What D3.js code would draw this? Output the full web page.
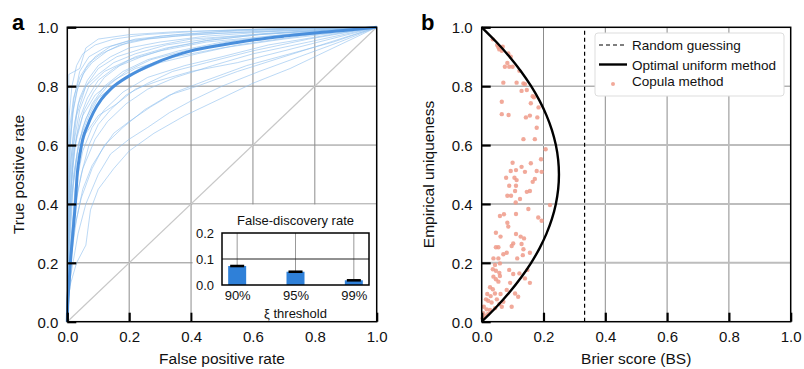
<!DOCTYPE html>
<html>
<head>
<meta charset="utf-8">
<script src="https://cdn.jsdelivr.net/npm/d3@7"></script>
<style>
  body { margin: 0; background: #fff; }
  svg { font-family: "Liberation Sans", Arial, Helvetica, sans-serif; }
</style>
</head>
<body>
<svg id="chart" width="804" height="369"></svg>
<script>
// ---- data ----
const gridTicks = [0, 0.2, 0.4, 0.6, 0.8, 1.0];

// panel a: mean ROC curve
const meanFpr = [0, 0.001, 0.005, 0.01, 0.018, 0.026, 0.032, 0.041, 0.05, 0.065, 0.084, 0.11, 0.14, 0.2, 0.28, 0.4, 0.5, 0.6, 0.7, 0.8, 0.9, 1];
const meanTpr = [0, 0.05, 0.12, 0.2, 0.3, 0.4, 0.5, 0.57, 0.62, 0.665, 0.71, 0.755, 0.79, 0.835, 0.877, 0.92, 0.94, 0.957, 0.97, 0.981, 0.99, 1];

// panel a: individual ROC curves, [fpr, tpr] knots
const rocCurves = [
  [[0,0],[0.002,0.5],[0.005,0.84],[0.04,0.86],[0.06,0.93],[0.1,0.96],[0.2,0.975],[0.35,0.985],[0.6,0.993],[0.85,1],[1,1]],
  [[0,0],[0.003,0.3],[0.01,0.6],[0.02,0.75],[0.04,0.85],[0.07,0.9],[0.12,0.93],[0.2,0.955],[0.35,0.97],[0.5,0.98],[0.75,0.99],[1,1]],
  [[0,0],[0.005,0.35],[0.015,0.55],[0.03,0.7],[0.06,0.8],[0.1,0.86],[0.16,0.9],[0.25,0.93],[0.4,0.96],[0.6,0.975],[0.8,0.99],[1,1]],
  [[0,0],[0.01,0.4],[0.02,0.6],[0.04,0.72],[0.07,0.8],[0.12,0.85],[0.2,0.89],[0.3,0.92],[0.45,0.95],[0.65,0.97],[0.85,0.99],[1,1]],
  [[0,0],[0.004,0.2],[0.012,0.45],[0.025,0.6],[0.05,0.7],[0.09,0.77],[0.15,0.82],[0.22,0.86],[0.35,0.9],[0.5,0.93],[0.7,0.96],[0.9,0.985],[1,1]],
  [[0,0],[0.01,0.25],[0.025,0.45],[0.05,0.58],[0.08,0.66],[0.12,0.72],[0.18,0.78],[0.26,0.83],[0.38,0.87],[0.5,0.9],[0.65,0.94],[0.85,0.975],[1,1]],
  [[0,0],[0.008,0.12],[0.03,0.2],[0.06,0.26],[0.075,0.38],[0.1,0.45],[0.15,0.52],[0.2,0.58],[0.28,0.64],[0.38,0.7],[0.5,0.76],[0.6,0.81],[0.72,0.86],[0.82,0.91],[0.92,0.96],[1,1]],
  [[0,0],[0.005,0.15],[0.02,0.3],[0.045,0.42],[0.08,0.52],[0.12,0.6],[0.18,0.66],[0.25,0.72],[0.33,0.77],[0.42,0.8],[0.55,0.85],[0.7,0.9],[0.85,0.95],[1,1]],
  [[0,0],[0.003,0.25],[0.01,0.4],[0.03,0.55],[0.06,0.64],[0.1,0.7],[0.16,0.74],[0.22,0.79],[0.3,0.82],[0.4,0.85],[0.55,0.88],[0.7,0.92],[0.85,0.96],[1,1]],
  [[0,0],[0.002,0.3],[0.008,0.5],[0.02,0.65],[0.035,0.74],[0.06,0.8],[0.1,0.84],[0.15,0.88],[0.22,0.91],[0.32,0.94],[0.45,0.96],[0.65,0.98],[0.85,0.99],[1,1]],
  [[0,0],[0.002,0.4],[0.006,0.58],[0.015,0.7],[0.03,0.78],[0.05,0.84],[0.08,0.88],[0.13,0.92],[0.2,0.95],[0.3,0.97],[0.5,0.985],[0.75,0.995],[1,1]],
  [[0,0],[0.006,0.3],[0.02,0.5],[0.04,0.62],[0.07,0.7],[0.1,0.76],[0.15,0.8],[0.21,0.84],[0.3,0.88],[0.42,0.91],[0.55,0.94],[0.75,0.97],[1,1]],
  [[0,0],[0.01,0.3],[0.02,0.48],[0.035,0.6],[0.06,0.69],[0.09,0.75],[0.13,0.8],[0.19,0.85],[0.27,0.89],[0.38,0.92],[0.52,0.95],[0.7,0.97],[0.9,0.99],[1,1]],
  [[0,0],[0.004,0.35],[0.012,0.55],[0.025,0.68],[0.04,0.76],[0.065,0.82],[0.1,0.87],[0.14,0.9],[0.2,0.93],[0.3,0.95],[0.45,0.97],[0.65,0.985],[1,1]],
  [[0,0],[0.01,0.2],[0.03,0.35],[0.05,0.45],[0.08,0.53],[0.11,0.58],[0.15,0.64],[0.2,0.68],[0.27,0.73],[0.35,0.78],[0.45,0.82],[0.58,0.87],[0.72,0.91],[0.86,0.95],[1,1]],
  [[0,0],[0.003,0.2],[0.015,0.42],[0.03,0.56],[0.05,0.66],[0.08,0.74],[0.12,0.8],[0.18,0.85],[0.26,0.89],[0.36,0.92],[0.5,0.95],[0.7,0.975],[1,1]],
  [[0,0],[0.005,0.45],[0.01,0.62],[0.02,0.72],[0.035,0.8],[0.06,0.86],[0.09,0.9],[0.14,0.935],[0.22,0.96],[0.35,0.975],[0.55,0.99],[1,1]],
  [[0,0],[0.008,0.22],[0.025,0.4],[0.05,0.52],[0.09,0.62],[0.13,0.68],[0.19,0.74],[0.26,0.79],[0.35,0.83],[0.47,0.87],[0.6,0.91],[0.78,0.95],[1,1]],
  [[0,0],[0.002,0.55],[0.006,0.7],[0.015,0.8],[0.03,0.87],[0.05,0.91],[0.09,0.94],[0.15,0.96],[0.25,0.975],[0.4,0.985],[0.65,0.995],[1,1]],
  [[0,0],[0.004,0.28],[0.015,0.5],[0.03,0.63],[0.055,0.72],[0.085,0.78],[0.12,0.83],[0.17,0.87],[0.24,0.9],[0.33,0.93],[0.45,0.955],[0.62,0.975],[0.82,0.99],[1,1]],
  [[0,0],[0.01,0.15],[0.035,0.3],[0.06,0.4],[0.1,0.5],[0.14,0.57],[0.2,0.62],[0.26,0.66],[0.33,0.71],[0.4,0.75],[0.5,0.8],[0.62,0.85],[0.75,0.9],[0.88,0.95],[1,1]],
  [[0,0],[0.003,0.5],[0.008,0.66],[0.02,0.76],[0.04,0.83],[0.07,0.88],[0.11,0.91],[0.17,0.94],[0.26,0.96],[0.4,0.975],[0.6,0.985],[0.8,0.995],[1,1]],
  [[0,0],[0.007,0.38],[0.02,0.57],[0.04,0.69],[0.065,0.76],[0.1,0.82],[0.15,0.86],[0.22,0.9],[0.32,0.93],[0.45,0.955],[0.62,0.975],[1,1]],
  [[0,0],[0.005,0.18],[0.02,0.36],[0.045,0.5],[0.07,0.6],[0.1,0.67],[0.14,0.72],[0.19,0.77],[0.26,0.81],[0.34,0.85],[0.45,0.88],[0.6,0.92],[0.78,0.96],[1,1]]
];

// panel a inset: false-discovery rate
const fdrLabels = ['90%', '95%', '99%'];
const fdrValues = [0.073, 0.051, 0.018];
const fdrErrors = [0.003, 0.003, 0.003];
const fdrTicks = [0, 0.1, 0.2];

// panel b: optimal uniform method
const optU  = [0, 0.05, 0.1, 0.15, 0.2, 0.25, 0.3, 0.35, 0.4, 0.45, 0.5, 0.55, 0.6, 0.65, 0.7, 0.75, 0.8, 0.85, 0.9, 0.95, 1];
const optBS = [0, 0.0475, 0.09, 0.1275, 0.16, 0.1875, 0.21, 0.2275, 0.24, 0.2475, 0.25, 0.2475, 0.24, 0.2275, 0.21, 0.1875, 0.16, 0.1275, 0.09, 0.0475, 0];
const randomBS = 0.333;

// panel b: copula method, [BS, uniqueness]
const copulaPoints = [
  [0.036,0.959],[0.050,0.940],[0.054,0.932],[0.057,0.925],[0.065,0.920],[0.068,0.934],[0.086,0.911],[0.094,0.900],
  [0.083,0.879],[0.075,0.866],[0.089,0.866],[0.100,0.866],[0.122,0.852],[0.070,0.812],[0.113,0.812],[0.135,0.809],
  [0.140,0.807],[0.129,0.784],[0.146,0.787],[0.165,0.766],[0.169,0.762],[0.159,0.742],[0.065,0.747],[0.184,0.728],
  [0.065,0.705],[0.087,0.702],[0.143,0.694],[0.156,0.700],[0.180,0.694],[0.178,0.659],[0.135,0.620],[0.172,0.620],
  [0.207,0.586],[0.192,0.552],[0.100,0.540],[0.129,0.526],[0.159,0.538],[0.094,0.512],[0.111,0.515],[0.140,0.509],
  [0.079,0.489],[0.106,0.489],[0.113,0.481],[0.178,0.512],[0.194,0.509],[0.089,0.462],[0.111,0.462],[0.165,0.475],
  [0.172,0.485],[0.108,0.444],[0.146,0.441],[0.156,0.444],[0.083,0.428],[0.095,0.428],[0.124,0.417],[0.110,0.405],
  [0.221,0.396],[0.151,0.383],[0.072,0.365],[0.059,0.359],[0.111,0.366],[0.183,0.354],[0.194,0.343],[0.083,0.336],
  [0.086,0.323],[0.046,0.302],[0.061,0.289],[0.111,0.298],[0.126,0.289],[0.137,0.283],[0.046,0.253],[0.054,0.253],
  [0.102,0.266],[0.097,0.257],[0.129,0.264],[0.081,0.234],[0.070,0.229],[0.135,0.246],[0.133,0.226],[0.038,0.215],
  [0.054,0.215],[0.059,0.198],[0.043,0.193],[0.115,0.215],[0.156,0.234],[0.036,0.178],[0.046,0.173],[0.057,0.166],
  [0.038,0.153],[0.046,0.144],[0.054,0.136],[0.089,0.176],[0.059,0.155],[0.102,0.162],[0.122,0.164],[0.148,0.176],
  [0.140,0.147],[0.092,0.132],[0.156,0.132],[0.027,0.117],[0.036,0.110],[0.018,0.094],[0.029,0.087],[0.043,0.096],
  [0.061,0.094],[0.014,0.076],[0.021,0.071],[0.032,0.065],[0.049,0.076],[0.057,0.060],[0.065,0.051],[0.007,0.051],
  [0.016,0.042],[0.027,0.040],[0.043,0.046],[0.005,0.029],[0.011,0.019],[0.021,0.026],[0.003,0.012],[0.108,0.096],
  [0.118,0.085],[0.081,0.108],[0.070,0.068],[0.097,0.051]
];

// ---- drawing ----
const svg = d3.select('#chart');
const fmt = d3.format('.1f');

function drawGrid(g, x, y, hGridStyle) {
  g.append('g').selectAll('line').data(gridTicks.slice(1, -1)).join('line')
    .attr('x1', d => x(d)).attr('x2', d => x(d))
    .attr('y1', y(0)).attr('y2', y(1))
    .attr('stroke', '#8c8c8c').attr('stroke-width', 1);
  g.append('g').selectAll('line').data(gridTicks.slice(1, -1)).join('line')
    .attr('y1', d => y(d)).attr('y2', d => y(d))
    .attr('x1', x(0)).attr('x2', x(1))
    .attr('stroke', d => hGridStyle(d).color).attr('stroke-width', d => hGridStyle(d).width);
}

function drawAxes(g, x, y, xTitle, yTitle, yTitleX) {
  const xAxis = g.append('g').attr('transform', `translate(0,${y(0)})`)
    .call(d3.axisBottom(x).tickValues(gridTicks).tickSize(-9).tickPadding(10).tickFormat(fmt));
  const yAxis = g.append('g').attr('transform', `translate(${x(0)},0)`)
    .call(d3.axisLeft(y).tickValues(gridTicks).tickSize(-9).tickPadding(9).tickFormat(fmt));
  [xAxis, yAxis].forEach(a => {
    a.select('.domain').remove();
    a.selectAll('line').attr('stroke', '#000').attr('stroke-width', 2.2);
    a.selectAll('text').attr('font-size', 15).attr('fill', '#111');
  });
  yAxis.selectAll('text').attr('dy', '0.36em');

  g.append('text')
    .attr('x', (x(0) + x(1)) / 2).attr('y', 364)
    .attr('text-anchor', 'middle').attr('font-size', 15.5).attr('fill', '#111')
    .text(xTitle);
  g.append('text')
    .attr('transform', `translate(${yTitleX},${(y(0) + y(1)) / 2}) rotate(-90)`)
    .attr('text-anchor', 'middle').attr('font-size', 15.5).attr('fill', '#111')
    .text(yTitle);
}

function drawFrame(g, x, y) {
  g.append('rect')
    .attr('x', x(0)).attr('y', y(1))
    .attr('width', x(1) - x(0)).attr('height', y(0) - y(1))
    .attr('fill', 'none').attr('stroke', '#000').attr('stroke-width', 1.5);
}

// ===== panel a =====
const xa = d3.scaleLinear().domain([0, 1]).range([67.3, 376.7]);
const ya = d3.scaleLinear().domain([0, 1]).range([321.7, 27.3]);
const ga = svg.append('g');

drawGrid(ga, xa, ya, () => ({ color: '#8c8c8c', width: 1 }));

// chance diagonal
ga.append('line')
  .attr('x1', xa(0)).attr('y1', ya(0)).attr('x2', xa(1)).attr('y2', ya(1))
  .attr('stroke', '#c8c8c8').attr('stroke-width', 1.2);

const rocLine = d3.line().x(d => xa(d[0])).y(d => ya(d[1]));
ga.append('g').selectAll('path').data(rocCurves).join('path')
  .attr('d', rocLine)
  .attr('fill', 'none')
  .attr('stroke', '#8fc0ee')
  .attr('stroke-opacity', 0.6)
  .attr('stroke-width', 1);

const meanLine = d3.line()
  .x((d, i) => xa(meanFpr[i])).y(d => ya(d))
  .curve(d3.curveMonotoneX);
ga.append('path')
  .datum(meanTpr)
  .attr('d', meanLine)
  .attr('fill', 'none')
  .attr('stroke', '#4a8fdc')
  .attr('stroke-width', 3);

drawAxes(ga, xa, ya, 'False positive rate', 'True positive rate', 24);

// inset background covers lower right of the main plot
ga.append('rect')
  .attr('x', xa(0.405)).attr('y', ya(0.398))
  .attr('width', xa(1) - xa(0.405)).attr('height', ya(0) - ya(0.398))
  .attr('fill', '#fff');

// inset chart
const xi = d3.scalePoint().domain(fdrLabels).range([222, 369]).padding(0.26);
const yi = d3.scaleLinear().domain([0, 0.2]).range([285, 233]);
const gi = ga.append('g');

gi.selectAll('line.vg').data(fdrLabels).join('line')
  .attr('class', 'vg')
  .attr('x1', d => xi(d)).attr('x2', d => xi(d))
  .attr('y1', yi(0.2)).attr('y2', yi(0))
  .attr('stroke', '#999').attr('stroke-width', 1);
gi.append('line')
  .attr('x1', xi.range()[0]).attr('x2', xi.range()[1])
  .attr('y1', yi(0.1)).attr('y2', yi(0.1))
  .attr('stroke', '#222').attr('stroke-width', 1);

const barW = 18;
gi.selectAll('rect.bar').data(fdrValues).join('rect')
  .attr('class', 'bar')
  .attr('x', (d, i) => xi(fdrLabels[i]) - barW / 2)
  .attr('y', d => yi(d))
  .attr('width', barW)
  .attr('height', d => yi(0) - yi(d))
  .attr('fill', '#2f80d8');
gi.selectAll('rect.err').data(fdrValues).join('rect')
  .attr('class', 'err')
  .attr('x', (d, i) => xi(fdrLabels[i]) - 7)
  .attr('y', (d, i) => yi(d + fdrErrors[i]) - 0.5)
  .attr('width', 14)
  .attr('height', (d, i) => yi(d - fdrErrors[i]) - yi(d + fdrErrors[i]) + 1)
  .attr('fill', '#000');

gi.append('rect')
  .attr('x', 222).attr('y', 233).attr('width', 147).attr('height', 52)
  .attr('fill', 'none').attr('stroke', '#000').attr('stroke-width', 1.5);

const iy = gi.append('g').attr('transform', 'translate(222,0)')
  .call(d3.axisLeft(yi).tickValues(fdrTicks).tickSize(0).tickPadding(8).tickFormat(fmt));
const ix = gi.append('g').attr('transform', `translate(0,${yi(0)})`)
  .call(d3.axisBottom(xi).tickSize(0).tickPadding(6));
[iy, ix].forEach(a => {
  a.select('.domain').remove();
  a.selectAll('text').attr('font-size', 13).attr('fill', '#111');
});
iy.selectAll('text').attr('dy', '0.36em');

gi.append('text').attr('x', 295.5).attr('y', 225)
  .attr('text-anchor', 'middle').attr('font-size', 13).attr('fill', '#111')
  .text('False-discovery rate');
gi.append('text').attr('x', 295.5).attr('y', 318)
  .attr('text-anchor', 'middle').attr('font-size', 13).attr('fill', '#111')
  .text('ξ threshold');

drawFrame(ga, xa, ya);

svg.append('text').attr('x', 12).attr('y', 30)
  .attr('font-size', 22).attr('font-weight', 'bold').text('a');

// ===== panel b =====
const xb = d3.scaleLinear().domain([0, 1]).range([481.7, 790.7]);
const yb = d3.scaleLinear().domain([0, 1]).range([321.7, 27.3]);
const gb = svg.append('g');

drawGrid(gb, xb, yb, d => d === 0.8 ? { color: '#8c8c8c', width: 1 } : { color: '#bdbdbd', width: 2 });

gb.append('g').selectAll('circle').data(copulaPoints).join('circle')
  .attr('cx', d => xb(d[0]))
  .attr('cy', d => yb(d[1]))
  .attr('r', 2.2)
  .attr('fill', '#ee9a88')
  .attr('fill-opacity', 0.85);

const optLine = d3.line()
  .x((d, i) => xb(optBS[i])).y(d => yb(d))
  .curve(d3.curveCatmullRom);
gb.append('path')
  .datum(optU)
  .attr('d', optLine)
  .attr('fill', 'none')
  .attr('stroke', '#000')
  .attr('stroke-width', 2.4);

gb.append('line')
  .attr('x1', xb(randomBS)).attr('x2', xb(randomBS))
  .attr('y1', yb(0)).attr('y2', yb(1))
  .attr('stroke', '#000').attr('stroke-width', 1.2)
  .attr('stroke-dasharray', '4,3');

// legend
const lg = gb.append('g');
lg.append('rect')
  .attr('x', 595).attr('y', 33).attr('width', 189).attr('height', 63)
  .attr('rx', 3).attr('fill', '#fff').attr('stroke', '#ddd').attr('stroke-width', 1);
lg.append('line').attr('x1', 599).attr('x2', 627).attr('y1', 45).attr('y2', 45)
  .attr('stroke', '#000').attr('stroke-width', 1.2).attr('stroke-dasharray', '4,3');
lg.append('line').attr('x1', 599).attr('x2', 627).attr('y1', 64.5).attr('y2', 64.5)
  .attr('stroke', '#000').attr('stroke-width', 2.4);
lg.append('circle').attr('cx', 613).attr('cy', 84).attr('r', 2)
  .attr('fill', '#ee9a88').attr('fill-opacity', 0.85);
const legendLabels = ['Random guessing', 'Optimal uniform method', 'Copula method'];
lg.selectAll('text').data(legendLabels).join('text')
  .attr('x', 632)
  .attr('y', (d, i) => [50, 70, 86][i])
  .attr('font-size', 13.5).attr('fill', '#111')
  .text(d => d);

drawAxes(gb, xb, yb, 'Brier score (BS)', 'Empirical uniqueness', 434);
drawFrame(gb, xb, yb);

svg.append('text').attr('x', 421).attr('y', 30)
  .attr('font-size', 22).attr('font-weight', 'bold').text('b');
</script>
</body>
</html>
